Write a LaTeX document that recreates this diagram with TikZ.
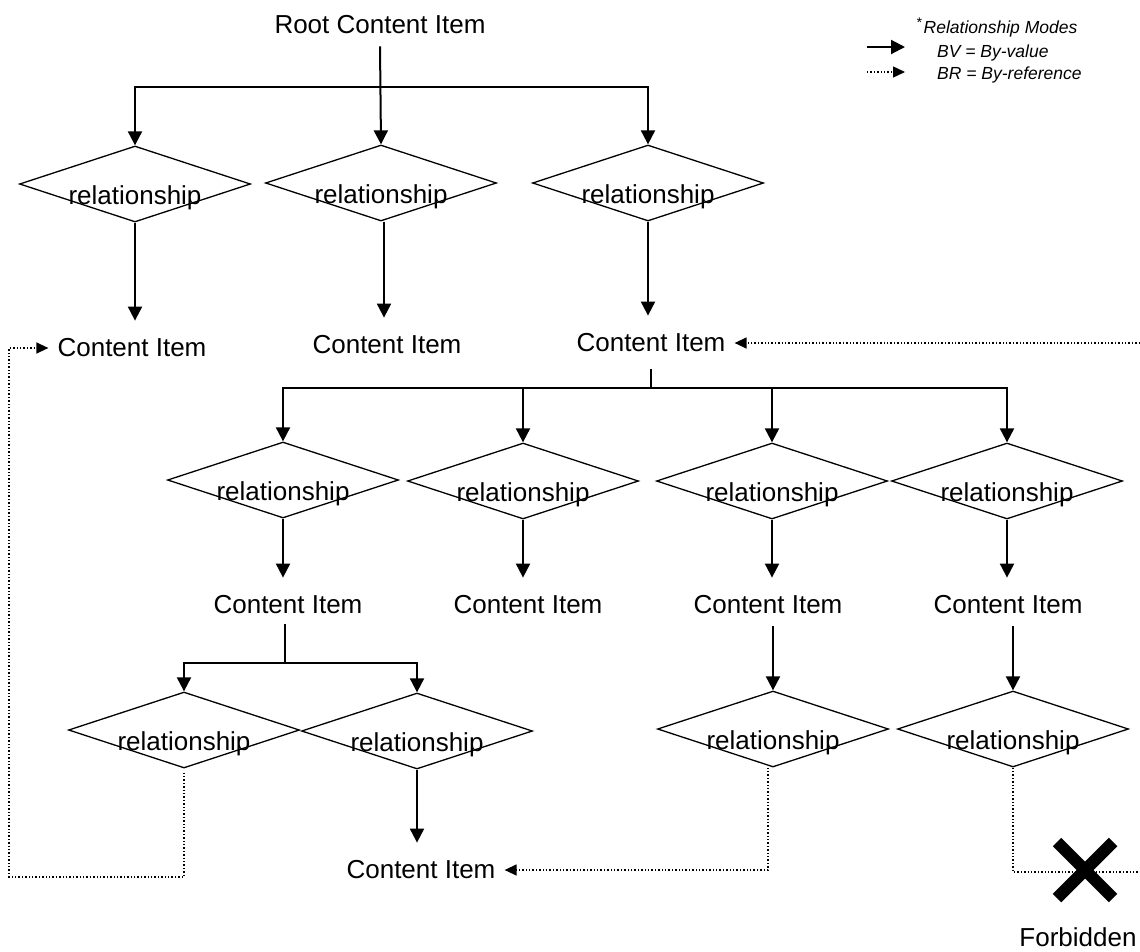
\documentclass[tikz,border=0pt]{standalone}
\usepackage{fontspec}
\setmainfont{Liberation Sans}
\usetikzlibrary{shapes.geometric,arrows.meta,calc}
\begin{document}
\begin{tikzpicture}[x=1pt,y=-1pt,
  every node/.style={font=\fontsize{26}{30}\selectfont},
  item/.style={inner xsep=9pt, inner ysep=18pt},
  rel/.style={draw, line width=1.3pt, shape=diamond, aspect=3,
    minimum width=231pt, minimum height=76pt, inner sep=0pt},
  arr/.style={line width=2pt, -{Triangle[length=14pt,width=14pt]}},
  bus/.style={line width=2pt, line cap=rect},
  dotarr/.style={line width=1.4pt, dotted, -{Triangle[length=12pt,width=11pt]}},
  dotln/.style={line width=1.4pt, dotted},
  legend/.style={font=\fontsize{17.5}{20}\selectfont\itshape, inner sep=0pt, anchor=west},
]
\useasboundingbox (0,0) rectangle (1140,951);

% content items
\node[inner sep=0pt] (root) at (380,25) {Root Content Item};
\node[item] (CI1) at (132,348) {Content Item};
\node[item] (CI2) at (387,345) {Content Item};
\node[item] (CI3) at (651,343) {Content Item};
\node[item] (CI4) at (288,605) {Content Item};
\node[item] (CI5) at (528,605) {Content Item};
\node[item] (CI6) at (768,605) {Content Item};
\node[item] (CI7) at (1008,605) {Content Item};
\node[item] (CI8) at (421,870) {Content Item};
\node[inner sep=0pt] (forb) at (1078,937) {Forbidden};

% relationships
\newcommand{\reltext}{\raisebox{-20pt}[0pt][0pt]{relationship}}
\node[rel] (R1) at (135,184) {\reltext};
\node[rel] (R2) at (381,183) {\reltext};
\node[rel] (R3) at (648,183) {\reltext};
\node[rel] (A) at (283,480) {\reltext};
\node[rel] (B) at (523,481) {\reltext};
\node[rel] (C) at (772,481) {\reltext};
\node[rel] (D) at (1007,481) {\reltext};
\node[rel] (E) at (184,730) {\reltext};
\node[rel] (F) at (417,731) {\reltext};
\node[rel] (G) at (773,729) {\reltext};
\node[rel] (H) at (1013,729) {\reltext};

% level 1
\coordinate (bus1) at (380,87);
\draw[arr] ([yshift=-12pt]root.south) -- (R2.north);
\draw[bus] (R1.north |- bus1) -- (R3.north |- bus1);
\draw[arr] (R1.north |- bus1) -- (R1.north);
\draw[arr] (R3.north |- bus1) -- (R3.north);
\draw[arr] (R1.south) -- (R1.south |- CI1.north);
\draw[arr] ([xshift=3pt]R2.south) -- ([xshift=3pt]R2.south |- CI2.north);
\draw[arr] (R3.south) -- (R3.south |- CI3.north);

% level 2
\coordinate (bus2) at (651,388);
\draw[bus] (CI3.south) -- (CI3.south |- bus2);
\draw[bus] (A.north |- bus2) -- (D.north |- bus2);
\draw[arr] (A.north |- bus2) -- (A.north);
\draw[arr] (B.north |- bus2) -- (B.north);
\draw[arr] (C.north |- bus2) -- (C.north);
\draw[arr] (D.north |- bus2) -- (D.north);
\draw[arr] (A.south) -- (A.south |- CI4.north);
\draw[arr] (B.south) -- (B.south |- CI5.north);
\draw[arr] (C.south) -- (C.south |- CI6.north);
\draw[arr] (D.south) -- (D.south |- CI7.north);

% level 3
\coordinate (bus3) at (285,663);
\draw[bus] ([xshift=-3pt,yshift=7pt]CI4.south) -- ([xshift=-3pt]CI4.south |- bus3);
\draw[bus] (E.north |- bus3) -- (F.north |- bus3);
\draw[arr] (E.north |- bus3) -- (E.north);
\draw[arr] (F.north |- bus3) -- (F.north);
\draw[arr] ([yshift=6pt]CI6.south -| G.north) -- (G.north);
\draw[arr] ([yshift=6pt]CI7.south -| H.north) -- (H.north);
\draw[arr] (F.south) -- (F.south |- CI8.north);

% by-reference connectors
\coordinate (dl) at (9,877);
\coordinate (rEdge1) at (1140,343);
\coordinate (rEdge2) at (1140,872);
\draw[dotarr] ([yshift=-4pt]E.south) |- (dl) |- (CI1.west);
\draw[dotarr] (rEdge1) -- (CI3.east);
\draw[dotarr] ([xshift=-5pt]G.south) |- (CI8.east);
\draw[dotln] (H.south) |- (rEdge2);

% forbidden mark
\coordinate (forbidX) at (1085,870);
\draw[line width=12pt] ($(forbidX)+(-28,-28)$) -- ($(forbidX)+(28,28)$);
\draw[line width=12pt] ($(forbidX)+(28,-28)$) -- ($(forbidX)+(-28,28)$);

% legend
\node[legend] (lgT) at (916,27) {\raisebox{6pt}{\fontsize{14}{14}\selectfont *}\kern2pt Relationship Modes};
\node[legend] (lgBV) at (937,53) {BV = By-value};
\node[legend] (lgBR) at (937,75) {BR = By-reference};
\coordinate (lg1s) at (867,47);
\coordinate (lg1e) at (905,47);
\coordinate (lg2s) at (867,72);
\coordinate (lg2e) at (905,72);
\draw[arr] (lg1s) -- (lg1e);
\draw[dotarr] (lg2s) -- (lg2e);
\end{tikzpicture}
\end{document}
